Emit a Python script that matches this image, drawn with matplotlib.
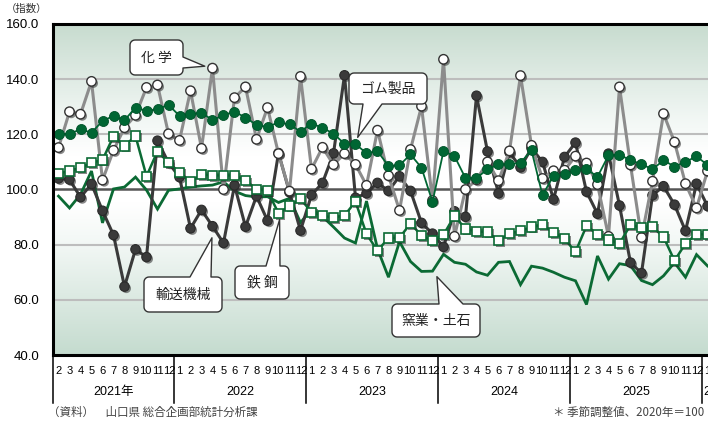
import numpy as np
import matplotlib
matplotlib.use('Agg')
import matplotlib.pyplot as plt
from matplotlib.patches import Polygon
from matplotlib.lines import Line2D
import matplotlib.patheffects as pe

plt.rcParams['font.family'] = ['Liberation Sans', 'Noto Sans CJK JP', 'DejaVu Sans']

# ---------------- data ----------------
months = [2, 3, 4, 5, 6, 7, 8, 9, 10, 11, 12] + list(range(1, 13)) * 4 + [1]
years = ["2021年", "2022", "2023", "2024", "2025", "2026"]
y_ticks = [40, 60, 80, 100, 120, 140, 160]

kagaku = [115.2, 128.2, 127.3, 139.2, 103.4, 114.2, 122.4, 126.9, 137.0, 137.9, 120.2, 117.8,
          135.8, 114.9, 144.0, 100.0, 133.3, 137.2, 118.2, 129.7, 113.0, 99.4, 141.0, 107.4,
          115.3, 109.0, 113.0, 109.1, 101.5, 121.5, 105.0, 92.4, 114.5, 130.2, 96.0, 147.2,
          83.0, 100.0, 103.5, 110.0, 103.2, 114.0, 141.3, 116.0, 104.0, 106.8, 107.0, 112.1,
          109.6, 101.8, 83.0, 137.2, 108.9, 82.6, 103.0, 127.5, 117.2, 102.1, 93.3, 106.7]

yuso = [104.0, 103.6, 97.2, 102.0, 92.3, 83.5, 64.8, 78.3, 75.5, 117.7, 109.7, 104.5,
        85.9, 92.6, 86.7, 80.6, 101.5, 86.5, 97.6, 88.7, 113.2, 99.0, 85.1, 98.0,
        102.4, 113.1, 141.4, 97.0, 98.6, 102.4, 99.5, 104.8, 99.5, 87.9, 84.0, 79.2,
        92.1, 90.1, 134.0, 113.8, 98.6, 113.5, 108.0, 115.0, 110.0, 96.4, 111.8, 117.0,
        99.2, 91.2, 113.0, 94.2, 73.5, 69.7, 97.9, 101.2, 94.5, 85.0, 102.1, 94.0]

gomu = [120.0, 120.2, 121.8, 120.6, 124.8, 126.7, 125.1, 129.7, 128.5, 129.1, 130.7, 126.7,
        127.3, 127.9, 125.1, 127.0, 128.2, 126.1, 123.4, 122.7, 124.3, 123.6, 121.0, 123.9,
        122.4, 120.2, 116.6, 116.4, 113.2, 113.9, 108.5, 108.8, 112.7, 107.9, 95.5, 113.9,
        112.1, 104.1, 104.2, 107.3, 109.1, 109.1, 109.7, 114.2, 97.9, 105.0, 105.5, 107.1,
        107.4, 104.6, 112.4, 112.6, 110.6, 109.2, 107.3, 110.6, 108.3, 110.0, 112.0, 108.9]

tekko = [105.8, 106.7, 107.9, 109.7, 110.7, 119.3, 115.8, 119.4, 104.8, 113.9, 109.7, 106.3,
         102.7, 105.5, 105.1, 105.1, 105.1, 103.3, 100.1, 99.5, 91.4, 94.0, 96.6, 91.8,
         90.5, 89.8, 90.6, 95.6, 83.9, 77.8, 82.4, 82.5, 87.7, 83.3, 81.5, 83.6,
         90.4, 85.7, 84.8, 84.6, 81.5, 84.0, 85.0, 86.4, 87.2, 84.4, 82.1, 77.4,
         86.8, 83.8, 81.7, 80.4, 87.2, 86.1, 86.5, 82.8, 74.2, 80.4, 83.8, 83.7]

yogyo = [97.6, 93.3, 98.2, 106.7, 87.9, 100.2, 100.9, 104.5, 99.8, 92.9, 99.7, 100.2,
         100.9, 101.3, 101.6, 102.8, 99.4, 97.8, 97.3, 97.4, 95.3, 96.8, 88.0, 92.8,
         90.2, 86.4, 82.4, 80.6, 95.8, 78.5, 68.2, 81.1, 73.9, 70.3, 70.4, 76.5,
         73.6, 72.9, 70.1, 68.9, 73.6, 73.9, 65.5, 72.2, 71.5, 70.0, 68.2, 66.9,
         58.3, 75.9, 67.5, 73.1, 72.4, 67.0, 65.5, 68.7, 73.5, 68.2, 76.4, 72.3]

# ---------------- layout ----------------
W, H = 708, 423
fig = plt.figure(figsize=(W / 100, H / 100), dpi=100)
fig.patch.set_facecolor('white')
L, R, T, B = 53, 713, 24, 355
ax = fig.add_axes([L / W, (H - B) / H, (R - L) / W, (B - T) / H])
n = len(months)
ax.set_xlim(0, n)
ax.set_ylim(40, 160)
x = np.arange(n) + 0.5
px_unit = n / (R - L)   # data units per pixel

# background gradient
vals = np.linspace(40, 160, 300)
stops_v = [40, 80, 95, 112, 125, 160]
c_bot = np.array([0.77, 0.86, 0.81])
c_top = np.array([0.78, 0.86, 0.81])
stops_c = [c_bot, np.array([0.95, 0.97, 0.96]), np.array([1, 1, 1]), np.array([1, 1, 1]),
           np.array([0.95, 0.97, 0.96]), c_top]
grad = np.zeros((len(vals), 1, 3))
for k in range(3):
    grad[:, 0, k] = np.interp(vals, stops_v, [c[k] for c in stops_c])
ax.imshow(grad, extent=(0, n, 40, 160), aspect='auto', origin='lower', zorder=0,
          interpolation='bilinear')

for g in [60, 80, 120, 140]:
    ax.axhline(g, color='#bdbdbd', lw=1.5, zorder=1)
ax.axhline(100, color='#555555', lw=1.8, zorder=1)

for s in ['top', 'left', 'bottom']:
    ax.spines[s].set_linewidth(2.2)
    ax.spines[s].set_color('black')
    ax.spines[s].set_zorder(30)
ax.spines['right'].set_visible(False)

ax.set_yticks(y_ticks)
ax.set_yticklabels([f"{v:.1f}" for v in y_ticks], fontsize=9.5)
ax.tick_params(axis='y', length=0, pad=10)
ax.set_xticks([])

# month / year labels
xt = ax.get_xaxis_transform()
ym = -(371 - B) / (B - T)
yy = -(392 - B) / (B - T)
ysep = -(403 - B) / (B - T)
shift = {10: -1.0, 12: 1.0}
for xi, m in zip(x, months):
    ax.text(xi + shift.get(m, 0.0) * px_unit, ym, str(m), transform=xt, ha='center',
            va='center', fontsize=8.0, clip_on=False)
starts = [0] + [i for i in range(1, n) if months[i] == 1]
ends = starts[1:] + [n]
for s0, e0, yl in zip(starts, ends, years):
    ax.add_line(Line2D([s0, s0], [0, ysep], transform=xt, color='black', lw=1.1,
                       clip_on=False))
    if e0 - s0 > 2:
        ax.text((s0 + e0) / 2, yy, yl, transform=xt, ha='center', va='center',
                fontsize=9, clip_on=False)
    else:
        ax.text(s0 + 0.1, yy, yl, transform=xt, ha='left', va='center',
                fontsize=9, clip_on=False)

# ---------------- series ----------------
shadow = [pe.SimplePatchShadow(offset=(1.3, -1.3), shadow_rgbFace='#2a2a2a', alpha=0.55),
          pe.Normal()]
green = '#0b6a34'
ax.plot(x, yogyo, color=green, lw=2.0, zorder=3, solid_joinstyle='miter')

ax.plot(x, yuso, color='#3a3a3a', lw=2.2, zorder=4)
ax.plot(x, yuso, 'o', ms=6.8, mfc='#3a3a3a', mec='#2a2a2a', mew=0.8, zorder=5,
        path_effects=shadow)

ax.plot(x, kagaku, color='#8c8c8c', lw=2.2, zorder=6)
ax.plot(x, kagaku, 'o', ms=6.8, mfc='white', mec='#333333', mew=1.0, zorder=7,
        path_effects=shadow)

ax.plot(x, tekko, color=green, lw=1.8, zorder=8)
ax.plot(x, tekko, 's', ms=6.6, mfc='white', mec=green, mew=1.2, zorder=9,
        path_effects=shadow)

ax.plot(x, gomu, color='#006633', lw=1.3, zorder=10)
ax.plot(x, gomu, 'o', ms=7.2, mfc='#006633', mec='#005229', mew=0.6, zorder=11)

# ---------------- callouts ----------------
def to_px(xd, yd):
    d = ax.transData.transform((xd, yd))
    return d[0], H - d[1]

def callout(x0, y0, x1, y1, side, b0, b1, tip, text, r=5):
    pts = []
    def arc(cx, cy, a0, a1):
        for t in np.linspace(np.radians(a0), np.radians(a1), 7):
            pts.append((cx + r * np.cos(t), cy + r * np.sin(t)))
    pts.append((x0 + r, y0))
    if side == 'top':
        pts += [(b0, y0), tip, (b1, y0)]
    arc(x1 - r, y0 + r, -90, 0)
    if side == 'right':
        pts += [(x1, b0), tip, (x1, b1)]
    arc(x1 - r, y1 - r, 0, 90)
    if side == 'bottom':
        pts += [(b1, y1), tip, (b0, y1)]
    arc(x0 + r, y1 - r, 90, 180)
    arc(x0 + r, y0 + r, 180, 270)
    verts = [(px / W, 1 - py / H) for px, py in pts]
    poly = Polygon(verts, closed=True, transform=fig.transFigure, fc='white',
                   ec='#333333', lw=1.0, zorder=20, joinstyle='round')
    fig.add_artist(poly)
    fig.text((x0 + x1) / 2 / W, 1 - (y0 + y1) / 2 / H, text, ha='center', va='center',
             fontsize=10, family=['Noto Sans CJK JP'], color='#222222', zorder=21)

callout(130, 40, 183, 75, 'right', 57, 68, to_px(13.8, 144.7), "化 学")
callout(349, 73, 427, 104, 'bottom', 363, 382, to_px(27.7, 118.9), "ゴム製品")
callout(144, 277, 222, 312, 'top', 190, 211, to_px(14.45, 82.5), "輸送機械")
callout(235, 266, 289, 299, 'top', 266, 280, to_px(20.6, 89.1), "鉄 鋼")
callout(392, 304, 480, 337, 'top', 439, 463, to_px(34.9, 68.4), "窯業・土石")

# ---------------- notes ----------------
fig.text(6 / W, 1 - 9 / H, "（指数）", fontsize=7.5, va='center', ha='left',
         family=['Noto Sans CJK JP'], color='#333333')
fig.text(48 / W, 1 - 412 / H, "（資料）　山口県 総合企画部統計分析課", fontsize=8.3,
         va='center', ha='left', family=['Noto Sans CJK JP'], color='#444444')
fig.text(553 / W, 1 - 412 / H, "＊ 季節調整値、2020年＝100", fontsize=8.3,
         va='center', ha='left', family=['Noto Sans CJK JP'], color='#444444')

fig.savefig('out.png', dpi=100)
